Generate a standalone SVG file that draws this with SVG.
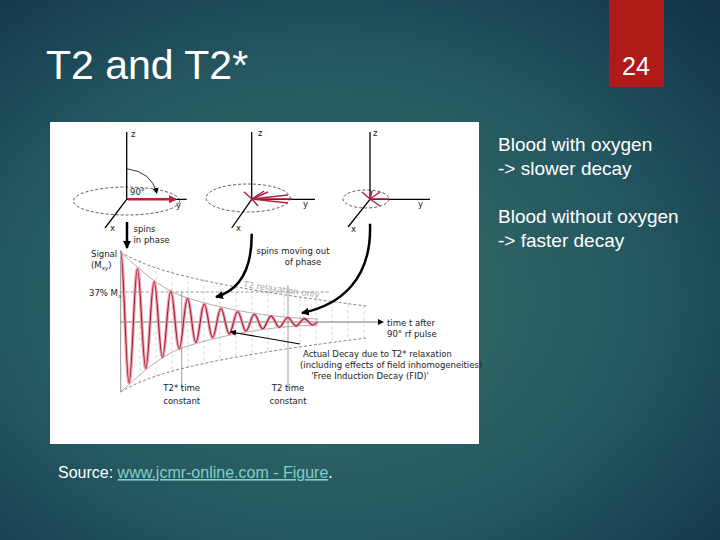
<svg xmlns="http://www.w3.org/2000/svg" width="720" height="540" viewBox="0 0 720 540">
<defs>
<radialGradient id="bg" cx="0.45" cy="0.55" r="0.75">
<stop offset="0" stop-color="#3a7068"/><stop offset="0.6" stop-color="#245660"/><stop offset="1" stop-color="#12354a"/>
</radialGradient>
<marker id="ah" markerWidth="8" markerHeight="8" refX="7" refY="4" orient="auto" markerUnits="userSpaceOnUse"><path d="M0,0 L8,4 L0,8 Z" fill="#000"/></marker>
<marker id="ahs" markerWidth="6" markerHeight="6" refX="5" refY="3" orient="auto" markerUnits="userSpaceOnUse"><path d="M0,0 L6,3 L0,6 Z" fill="#000"/></marker>
<marker id="ahr" markerWidth="8" markerHeight="8" refX="7" refY="4" orient="auto" markerUnits="userSpaceOnUse"><path d="M0,0 L8,4 L0,8 Z" fill="#c0203a"/></marker>
<path id="fid" fill="none" d="M120.7,252 C123.7,252 126.05,383 129.05,383 S134.4,268.8 137.4,268.8 S142.75,368.4 145.75,368.4 S151.1,281.5 154.1,281.5 S159.45,357.3 162.45,357.3 S167.8,291.2 170.8,291.2 S176.15,348.8 179.15,348.8 S184.5,298.6 187.5,298.6 S192.85,342.4 195.85,342.4 S201.2,304.2 204.2,304.2 S209.55,337.5 212.55,337.5 S217.9,308.5 220.9,308.5 S226.25,333.8 229.25,333.8 S234.6,311.7 237.6,311.7 S242.95,331 245.95,331 S251.3,314.2 254.3,314.2 S259.65,328.8 262.65,328.8 S268,316.1 271,316.1 S276.35,327.2 279.35,327.2 S284.7,317.5 287.7,317.5 S293.05,325.9 296.05,325.9 S301.4,318.6 304.4,318.6 S309.75,325 312.75,325 S315,322 318,322"/>
<style>
.t{font-family:"Liberation Sans",Arial,sans-serif;fill:#fff}
.f{font-family:"DejaVu Sans",Verdana,sans-serif;fill:#222;font-size:8.5px}
.ax{stroke:#000;stroke-width:1.3;fill:none}
.el{stroke:#333;stroke-width:0.8;stroke-dasharray:3,2;fill:none}
.red{stroke:#c0203a;stroke-width:2.5;fill:none}
.hat{stroke:#bbb;stroke-width:0.6;stroke-dasharray:3,3}
</style>
</defs>
<rect width="720" height="540" fill="url(#bg)"/>
<rect x="609" y="0" width="55" height="87" fill="#b01a18"/>
<text class="t" x="636" y="75" font-size="25" text-anchor="middle">24</text>
<text class="t" x="46" y="79" font-size="41">T2 and T2*</text>
<g id="notes" class="t" font-size="19">
<text x="498" y="151">Blood with oxygen</text>
<text x="498" y="175">-&gt; slower decay</text>
<text x="498" y="223">Blood without oxygen</text>
<text x="498" y="247">-&gt; faster decay</text>
</g>
<rect x="50" y="122" width="429" height="322" fill="#fff"/>
<g id="diagram1">
<ellipse class="el" cx="126.5" cy="201" rx="53" ry="14"/>
<line class="ax" x1="126.7" y1="199.3" x2="126.7" y2="132"/>
<line class="ax" x1="126.7" y1="199.3" x2="186.7" y2="199.3"/>
<line class="ax" x1="126.7" y1="199.3" x2="105" y2="228"/>
<line class="red" x1="128" y1="199.3" x2="176" y2="199.3" marker-end="url(#ahr)"/>
<path d="M126.7,168.7 Q152,172 156.7,193" fill="none" stroke="#000" stroke-width="0.8" marker-end="url(#ahs)"/>
<text class="f" x="131" y="137">z</text><text class="f" x="176" y="208">y</text><text class="f" x="110" y="231">x</text>
<text class="f" x="130" y="195">90°</text>
</g>
<g id="diagram2">
<ellipse class="el" cx="248" cy="198" rx="42" ry="14"/>
<line class="ax" x1="251.7" y1="199.3" x2="251.7" y2="132"/>
<line class="ax" x1="251.7" y1="199.3" x2="315" y2="199.3"/>
<line class="ax" x1="251.7" y1="199.3" x2="231.7" y2="228"/>
<g stroke="#b02040" stroke-width="1.5"><line x1="252" y1="199" x2="292" y2="199"/><line x1="252" y1="199" x2="288" y2="195"/><line x1="252" y1="199" x2="288" y2="203"/><line x1="252" y1="199" x2="264" y2="191"/><line x1="252" y1="199" x2="268" y2="192"/><line x1="252" y1="199" x2="244" y2="192"/><line x1="252" y1="199" x2="258" y2="206"/></g>
<text class="f" x="258" y="136">z</text><text class="f" x="303" y="207">y</text><text class="f" x="236" y="231">x</text>
</g>
<g id="diagram3">
<ellipse class="el" cx="366" cy="199" rx="23" ry="9"/>
<line class="ax" x1="370" y1="199.3" x2="370" y2="132"/>
<line class="ax" x1="370" y1="199.3" x2="430" y2="199.3"/>
<line class="ax" x1="370" y1="199.3" x2="348" y2="227"/>
<g stroke="#b02040" stroke-width="1.5"><line x1="370" y1="199" x2="389" y2="199"/><line x1="370" y1="199" x2="380" y2="192"/><line x1="370" y1="199" x2="362" y2="192"/><line x1="370" y1="199" x2="380" y2="206"/><line x1="370" y1="199" x2="372" y2="191"/></g>
<text class="f" x="373" y="136">z</text><text class="f" x="418" y="207">y</text><text class="f" x="351" y="232">x</text>
</g>
<g id="graph">
<g class="hat">
<line x1="140" y1="259.6" x2="140" y2="384.4"/><line x1="156" y1="265.3" x2="156" y2="378.7"/><line x1="172" y1="270.3" x2="172" y2="373.7"/><line x1="188" y1="275.2" x2="188" y2="368.8"/><line x1="204" y1="279.5" x2="204" y2="364.5"/><line x1="220" y1="283.4" x2="220" y2="360.6"/><line x1="236" y1="286.9" x2="236" y2="357.1"/><line x1="252" y1="290.1" x2="252" y2="353.9"/><line x1="268" y1="293.1" x2="268" y2="350.9"/><line x1="284" y1="295.7" x2="284" y2="348.3"/><line x1="300" y1="298.1" x2="300" y2="345.9"/><line x1="316" y1="300.3" x2="316" y2="343.7"/><line x1="332" y1="302.3" x2="332" y2="341.7"/><line x1="348" y1="304.1" x2="348" y2="339.9"/><line x1="364" y1="305.7" x2="364" y2="338.3"/>
</g>
<path d="M120.7,252 C150,270 200,285 366,306 M120.7,392 C150,374 200,359 366,338" fill="none" stroke="#666" stroke-width="0.8" stroke-dasharray="3,2"/>
<path d="M120.7,252 C140,270 160,288 181.7,296 C220,309 270,318 318,319 M120.7,392 C140,374 160,356 181.7,348 C220,335 270,326 318,325" fill="none" stroke="#999" stroke-width="0.8"/>
<line x1="120.7" y1="292" x2="330" y2="292" stroke="#555" stroke-width="0.6" stroke-dasharray="3,2"/>
<line x1="181.7" y1="292" x2="181.7" y2="389" stroke="#777" stroke-width="0.7"/>
<line x1="288" y1="285" x2="288" y2="389" stroke="#777" stroke-width="0.7"/>
<line x1="120.7" y1="250" x2="120.7" y2="392" stroke="#777" stroke-width="0.8"/>
<line x1="120.7" y1="322" x2="383" y2="322" stroke="#555" stroke-width="0.8" marker-end="url(#ahs)"/>
<use href="#fid" stroke="#eaa6b0" stroke-width="3.2"/>
<use href="#fid" stroke="#a81830" stroke-width="1.1"/>
<text class="f" x="91" y="257">Signal</text><text class="f" x="91" y="268">(M<tspan font-size="5.5" dy="2">xy</tspan><tspan dy="-2">)</tspan></text>
<text class="f" x="89" y="296" font-size="7.5">37% M<tspan font-size="5" dy="2">o</tspan></text>
<text class="f" x="387" y="326">time t after</text><text class="f" x="387" y="337">90° rf pulse</text>
<text class="f" x="243" y="287" font-size="11" style="fill:#aaa" transform="rotate(8 243 287)">T2 relaxation only</text>
<text class="f" x="181.7" y="391" text-anchor="middle">T2* time</text><text class="f" x="181.7" y="404" text-anchor="middle">constant</text>
<text class="f" x="288" y="391" text-anchor="middle">T2 time</text><text class="f" x="288" y="404" text-anchor="middle">constant</text>
<text class="f" x="303" y="357" font-size="8">Actual Decay due to T2* relaxation</text>
<text class="f" x="300" y="368" font-size="7">(including effects of field inhomogeneities)</text>
<text class="f" x="370" y="379" font-size="8" text-anchor="middle">'Free Induction Decay (FID)'</text>
</g>
<g id="connectors">
<line x1="127" y1="222" x2="127" y2="248" stroke="#000" stroke-width="2.5" marker-end="url(#ah)"/>
<path d="M251.7,233.7 C252,270 240,290 216,297" fill="none" stroke="#000" stroke-width="2.5" marker-end="url(#ah)"/>
<path d="M370,223.7 C372,280 340,305 302,313" fill="none" stroke="#000" stroke-width="2.5" marker-end="url(#ah)"/>
<line x1="300" y1="344" x2="231" y2="332" stroke="#000" stroke-width="1.2" marker-end="url(#ahs)"/>
</g>
<text class="f" x="133.5" y="232">spins</text><text class="f" x="133.5" y="243">in phase</text>
<text class="f" x="293" y="254" text-anchor="middle">spins moving out</text><text class="f" x="303" y="265" text-anchor="middle">of phase</text>
<text class="t" x="58" y="478" font-size="16">Source: <tspan style="fill:#7fd0c8" text-decoration="underline">www.jcmr-online.com - Figure</tspan>.</text>
</svg>
